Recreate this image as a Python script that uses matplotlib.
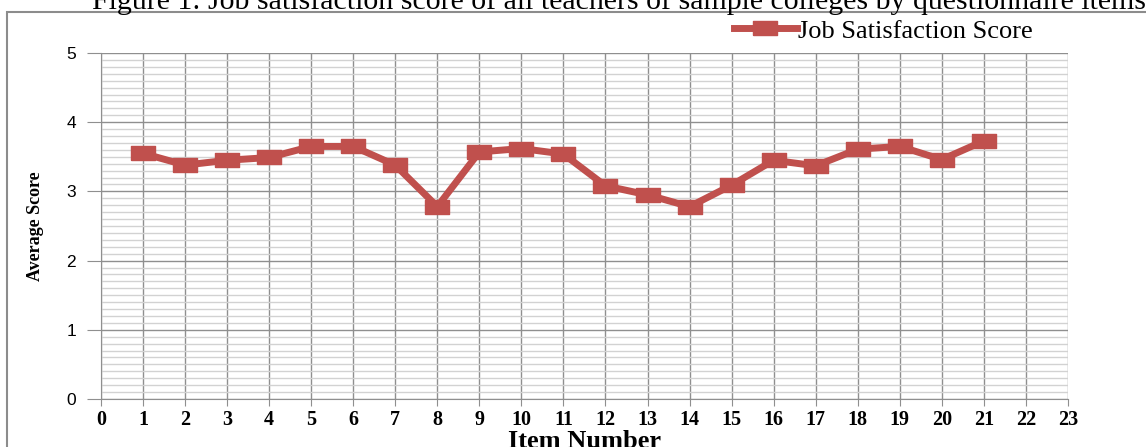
import matplotlib
matplotlib.use("Agg")
import matplotlib.pyplot as plt
from matplotlib.patches import Rectangle
from matplotlib.ticker import MultipleLocator

items = list(range(1, 22))
scores = [3.55, 3.38, 3.45, 3.49, 3.65, 3.65, 3.38, 2.78, 3.57, 3.62, 3.54,
          3.08, 2.95, 2.78, 3.09, 3.45, 3.37, 3.61, 3.65, 3.46, 3.73]
x_ticks = list(range(0, 24))
y_ticks = [0, 1, 2, 3, 4, 5]

red = "#C0504D"
rect = [(-1.6, -1), (1.6, -1), (1.6, 1), (-1.6, 1), (-1.6, -1)]

fig = plt.figure(figsize=(11.46, 4.47), dpi=100)
ax = fig.add_axes([0.0881, 0.1074, 0.8438, 0.774])

# outer chart frame (cut off on the right and bottom like the source)
fig.patches.append(Rectangle((7 / 1146, -0.1), 1.2, 1 - 12 / 447 + 0.1,
                             transform=fig.transFigure, fill=False,
                             edgecolor="#8c8c8c", linewidth=1.5))
fig.text(1.0, 1.0 + 12 / 447,
         "Figure 1: Job satisfaction score of all teachers of sample colleges by questionnaire items",
         ha="right", va="top", fontsize=21.5, family="Liberation Serif")

ax.plot(items, scores, color=red, linewidth=5, marker=rect, markersize=17,
        label="Job Satisfaction Score", zorder=3)

ax.set_xlim(0, 23)
ax.set_ylim(0, 5)
ax.set_xticks(x_ticks)
ax.set_yticks(y_ticks)
ax.yaxis.set_minor_locator(MultipleLocator(0.1))
ax.grid(True, which="major", color="#8f8f8f", linewidth=1)
ax.grid(True, which="minor", axis="y", color="#d2d2d2", linewidth=1)
ax.set_axisbelow(True)
for s in ["top", "right"]:
    ax.spines[s].set_visible(False)
for s in ["left", "bottom"]:
    ax.spines[s].set_color("#8f8f8f")
ax.tick_params(axis="y", which="major", length=10, color="#8f8f8f", pad=8,
               labelsize=12.5)
ax.tick_params(axis="y", which="minor", length=0)
ax.tick_params(axis="x", length=5, color="#8f8f8f", pad=3)
for lbl in ax.get_yticklabels():
    lbl.set_family("Liberation Sans")
for lbl in ax.get_xticklabels():
    lbl.set_family("Liberation Serif")
    lbl.set_fontweight("bold")
    lbl.set_fontsize(14.5)

ax.set_xlabel("Item Number", family="Liberation Serif", fontweight="bold",
              fontsize=19, labelpad=0)
ax.set_ylabel("Average Score", family="Liberation Serif",
              fontweight="bold", fontsize=13, labelpad=16)

leg = ax.legend(loc="center right", bbox_to_anchor=(0.975, 1.064), frameon=False,
                prop={"family": "Liberation Serif", "size": 19},
                handlelength=2.4, handletextpad=0.05, borderaxespad=0)

fig.savefig("out.png", dpi=100)
